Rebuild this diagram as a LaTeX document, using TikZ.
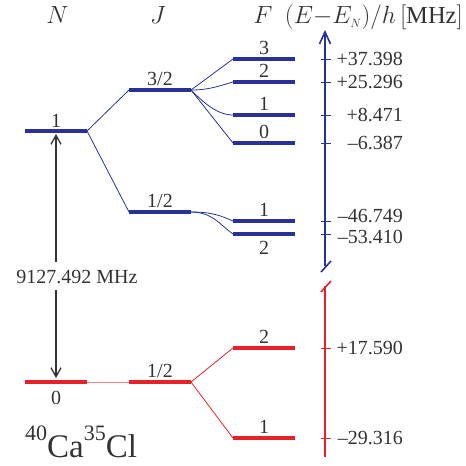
\documentclass[tikz,border=0pt]{standalone}
\usepackage{fontspec}
\setmainfont{Liberation Serif}
\usetikzlibrary{arrows.meta}
\definecolor{lvb}{RGB}{40,50,150}
\definecolor{lvr}{RGB}{232,32,40}
\definecolor{txt}{RGB}{51,51,51}
\begin{document}
\begin{tikzpicture}[x=1pt,y=-1pt,
  font=\fontsize{20}{24}\selectfont, text=txt,
  lvl/.style={draw=none,minimum width=62pt,minimum height=4pt,inner sep=0pt,outer sep=0pt},
  lb/.style={fill=lvb}, lr/.style={fill=lvr},
  conb/.style={draw=lvb,line width=0.8pt},
  conr/.style={draw=lvr,line width=0.8pt},
  tickb/.style={draw=lvb,line width=1pt},
  tickr/.style={draw=lvr,line width=1pt},
  val/.style={anchor=east,inner sep=0pt},
  labup/.style={anchor=base,inner sep=0pt},
  labdn/.style={anchor=north,inner sep=0pt},
  hdr/.style={inner sep=0pt,font=\fontsize{24.5}{28}\selectfont},
  gray arrow/.style={draw=txt,line width=1.3pt,-{Straight Barb[length=9pt,width=10pt]}}]
\useasboundingbox (0,0) rectangle (466,466);
% headers
\node[hdr] (hN) at (57.5,15) {$N$};
\node[hdr] (hJ) at (158,15) {$J$};
\node[hdr] (hF) at (263,15) {$F$};
\node[hdr,anchor=east] (hE) at (463,17.5) {$(E{-}E_{\scriptscriptstyle N})/h\,[\mathrm{MHz}]$};
% levels
\node[lvl,lb] (n1) at (56,131) {};
\node[lvl,lb] (j3) at (160,90) {};
\node[lvl,lb] (j1) at (160,212) {};
\node[lvl,lb] (f3) at (264,59) {};
\node[lvl,lb] (f2) at (264,82) {};
\node[lvl,lb] (f1) at (264,115) {};
\node[lvl,lb] (f0) at (264,143) {};
\node[lvl,lb] (g1) at (264,221) {};
\node[lvl,lb] (g2) at (264,234) {};
\node[lvl,lr] (n0) at (56,382) {};
\node[lvl,lr] (k1) at (160,382) {};
\node[lvl,lr] (h2) at (264,348) {};
\node[lvl,lr] (h1) at (264,438) {};
% level labels
\node[labup] (ln1) at (56,127) {1};
\node[labup] (lj3) at (160,85.5) {3/2};
\node[labup] (lj1) at (160,207.5) {1/2};
\node[labup] (lf3) at (264,54.5) {3};
\node[labup] (lf2) at (264,77.5) {2};
\node[labup] (lf1) at (264,110.5) {1};
\node[labup] (lf0) at (264,138.5) {0};
\node[labup] (lg1) at (264,216.5) {1};
\node[labdn] (lg2) at (264,241.5) {2};
\node[labdn] (ln0) at (56,391) {0};
\node[labup] (lk1) at (160,377.5) {1/2};
\node[labup] (lh2) at (264,343.5) {2};
\node[labup] (lh1) at (264,433.5) {1};
% connectors
\draw[conb] (n1.east) -- (j3.west);
\draw[conb] (n1.east) -- (j1.west);
\draw[conb] (j3.east) -- (f3.west);
\draw[conb] (j3.east) .. controls +(18,0) and +(-14,4) .. (f2.west);
\draw[conb] (j3.east) .. controls +(12,12) and +(-16,0) .. (f1.west);
\draw[conb] (j3.east) -- (f0.west);
\draw[conb] (j1.east) .. controls +(22,0) and +(-12,-5) .. (g1.west);
\draw[conb] (j1.east) .. controls +(22,0) and +(-12,-8) .. (g2.west);
\draw[conr,draw=lvr!55] (n0.east) -- (k1.west);
\draw[conr] (k1.east) -- (h2.west);
\draw[conr] (k1.east) -- (h1.west);
% transition arrow
\node[inner sep=0pt] (freq) at (77,277) {9127.492 MHz};
\coordinate (aup) at (56,262);
\coordinate (adn) at (56,290);
\coordinate (atop) at (56,134);
\coordinate (abot) at (56,378);
\draw[gray arrow] (aup) -- (atop);
\draw[gray arrow] (adn) -- (abot);
% axis
\coordinate (btop) at (325,30);
\coordinate (bbot) at (325,266);
\coordinate (bs1) at (321,272);
\coordinate (bs2) at (331,261);
\coordinate (rtop) at (325,286);
\coordinate (rbot) at (325,457);
\coordinate (rs1) at (321,292);
\coordinate (rs2) at (331,281);
\draw[draw=lvb,line width=1.6pt,-{Straight Barb[length=12pt,width=11pt]}] (bbot) -- (btop);
\draw[draw=lvb,line width=1.6pt] (bs1) -- (bs2);
\draw[draw=lvr,line width=1.6pt] (rtop) -- (rbot);
\draw[draw=lvr,line width=1.6pt] (rs1) -- (rs2);
% ticks
\foreach \yy in {59,82,115,143,221,234} \draw[tickb] (321,\yy) -- (331,\yy);
\foreach \yy in {348,438} \draw[tickr] (321,\yy) -- (331,\yy);
% values
\node[val] (v1) at (403,59) {+37.398};
\node[val] (v2) at (403,82) {+25.296};
\node[val] (v3) at (403,115) {+8.471};
\node[val] (v4) at (403,143) {–6.387};
\node[val] (v5) at (403,216) {–46.749};
\node[val] (v6) at (403,237) {–53.410};
\node[val] (v7) at (403,348) {+17.590};
\node[val] (v8) at (403,438) {–29.316};
% molecule
\node[anchor=base west,inner sep=0pt] (mol) at (25,457) {\raisebox{17pt}{\fontsize{22}{22}\selectfont 40}\fontsize{33}{34}\selectfont Ca\raisebox{17pt}{\fontsize{22}{22}\selectfont 35}Cl};
\end{tikzpicture}
\end{document}
